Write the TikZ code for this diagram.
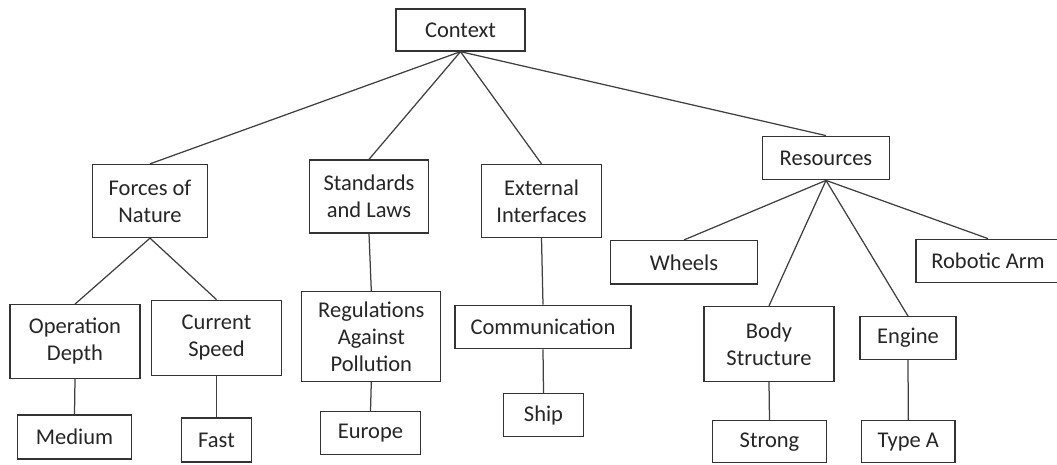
\documentclass[tikz,border=0pt]{standalone}
\usepackage{fontspec}
\setmainfont{Carlito}
\begin{document}
\begin{tikzpicture}[x=1pt,y=-1pt,
  box/.style={draw=black!80, line width=1.3pt, fill=white, align=center,
    inner sep=0pt, text=black!85,
    font=\fontsize{22.5pt}{27pt}\selectfont},
  link/.style={draw=black!75, line width=1.25pt}]
\useasboundingbox (0,0) rectangle (1057,464);
% level 0
\node[box, minimum width=129pt, minimum height=42pt] (ctx) at (460.5,30) {Context};
% level 1
\node[box, minimum width=114.5pt, minimum height=73pt] (forces) at (150,201) {Forces of\\Nature};
\node[box, minimum width=118.5pt, minimum height=73pt] (std) at (369,196.5) {Standards\\and Laws};
\node[box, minimum width=120pt, minimum height=73pt] (ext) at (541.5,201) {External\\Interfaces};
\node[box, minimum width=127pt, minimum height=43.5pt] (res) at (826,158) {Resources};
% level 2
\node[box, minimum width=130pt, minimum height=73.5pt] (opd) at (75,341.5) {Operation\\Depth};
\node[box, minimum width=129.5pt, minimum height=75.5pt] (cur) at (216.5,338) {Current\\Speed};
\node[box, minimum width=139pt, minimum height=90pt] (reg) at (371.3,336.5) {Regulations\\Against\\Pollution};
\node[box, minimum width=176pt, minimum height=43.5pt] (com) at (543,327) {Communication};
\node[box, minimum width=146.5pt, minimum height=43.5pt] (whl) at (684,262.3) {Wheels};
\node[box, minimum width=144pt, minimum height=43.5pt] (arm) at (988,261) {Robotic Arm};
\node[box, minimum width=130pt, minimum height=75pt] (body) at (769,344) {Body\\Structure};
\node[box, minimum width=96pt, minimum height=42.5pt] (eng) at (908,338) {Engine};
% level 3
\node[box, minimum width=114pt, minimum height=44pt] (med) at (74.5,437) {Medium};
\node[box, minimum width=70.5pt, minimum height=44pt] (fast) at (216.5,440) {Fast};
\node[box, minimum width=99.5pt, minimum height=43pt] (eu) at (370.5,433) {Europe};
\node[box, minimum width=80pt, minimum height=43pt] (ship) at (543.5,415) {Ship};
\node[box, minimum width=114pt, minimum height=42pt] (strong) at (769.5,441.7) {Strong};
\node[box, minimum width=93.5pt, minimum height=42pt] (typea) at (908.3,441.7) {Type A};
% connectors
\draw[link] (ctx.south) -- (forces.north);
\draw[link] (ctx.south) -- (std.north);
\draw[link] (ctx.south) -- (ext.north);
\draw[link] (ctx.south) -- (res.north);
\draw[link] (forces.south) -- (opd.north);
\draw[link] (forces.south) -- (cur.north);
\draw[link] (std.south) -- (reg.north);
\draw[link] (ext.south) -- (com.north);
\draw[link] (res.south) -- (whl.north);
\draw[link] (res.south) -- (body.north);
\draw[link] (res.south) -- (eng.north);
\draw[link] (res.south) -- (arm.north);
\draw[link] (opd.south) -- (med.north);
\draw[link] (cur.south) -- (fast.north);
\draw[link] (reg.south) -- (eu.north);
\draw[link] (com.south) -- (ship.north);
\draw[link] (body.south) -- (strong.north);
\draw[link] (eng.south) -- (typea.north);
\end{tikzpicture}
\end{document}
